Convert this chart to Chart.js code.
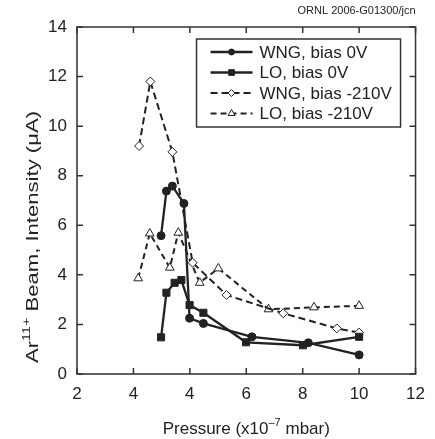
<!DOCTYPE html>
<html>
<head>
<meta charset="utf-8">
<script src="https://cdn.jsdelivr.net/npm/chart.js@4.4.1/dist/chart.umd.min.js"></script>
<style>
  html, body { margin: 0; padding: 0; background: #fff; }
  canvas { display: block; }
</style>
</head>
<body>
<canvas id="beamChart" width="435" height="439"></canvas>
<script>
// --- DATA ---
const seriesNames = ['WNG, bias 0V', 'LO, bias 0V', 'WNG, bias -210V', 'LO, bias -210V'];

const wng0X = [2.98, 3.17, 3.38, 3.79, 3.99, 4.48, 6.2, 8.2, 10.0];
const wng0Y = [5.58, 7.38, 7.58, 6.88, 2.25, 2.04, 1.5, 1.26, 0.77];

const lo0X = [2.98, 3.17, 3.46, 3.7, 3.99, 4.48, 5.99, 8.01, 10.0];
const lo0Y = [1.48, 3.28, 3.68, 3.79, 2.78, 2.47, 1.28, 1.16, 1.5];

const wngBiasX = [2.2, 2.6, 3.38, 4.1, 5.3, 7.31, 9.21, 10.0];
const wngBiasY = [9.2, 11.8, 8.96, 4.49, 3.19, 2.45, 1.84, 1.67];

const loBiasX = [2.17, 2.58, 3.29, 3.59, 4.35, 5.01, 6.79, 8.4, 10.0];
const loBiasY = [3.86, 5.67, 4.29, 5.7, 3.68, 4.26, 2.61, 2.69, 2.75];

// the printed x labels (as they appear on the original figure)
const xTickLabels = ['2', '4', '4', '6', '8', '10', '12'];

const INK = '#222';
const FONT = '"Liberation Sans", Arial, sans-serif';

function pts(xs, ys) { return xs.map((x, i) => ({ x, y: ys[i] })); }

// --- PLUGIN: frame, inward ticks, titles, boxed legend ---
const decorations = {
  id: 'decorations',
  beforeDraw(chart) {
    const ctx = chart.ctx;
    ctx.save();
    ctx.fillStyle = '#fff';
    ctx.fillRect(0, 0, chart.width, chart.height);
    ctx.restore();
  },
  afterDraw(chart) {
    const ctx = chart.ctx;
    const a = chart.chartArea;
    const xs = chart.scales.x, ys = chart.scales.y;
    ctx.save();

    // frame
    ctx.strokeStyle = '#333';
    ctx.lineWidth = 1.5;
    ctx.strokeRect(a.left, a.top, a.right - a.left, a.bottom - a.top);

    // inward ticks on all four sides
    const tl = 6;
    ctx.beginPath();
    xs.ticks.forEach(t => {
      const px = xs.getPixelForValue(t.value);
      ctx.moveTo(px, a.bottom); ctx.lineTo(px, a.bottom - tl);
      ctx.moveTo(px, a.top); ctx.lineTo(px, a.top + tl);
    });
    ys.ticks.forEach(t => {
      const py = ys.getPixelForValue(t.value);
      ctx.moveTo(a.left, py); ctx.lineTo(a.left + tl, py);
      ctx.moveTo(a.right, py); ctx.lineTo(a.right - tl, py);
    });
    ctx.stroke();

    ctx.fillStyle = INK;
    ctx.textAlign = 'left';
    ctx.textBaseline = 'alphabetic';

    // x title: Pressure (x10^-7 mbar)
    const big = '17px ' + FONT, sup = '11px ' + FONT;
    const xParts = [['Pressure (x10', big, 0], ['\u20137', sup, -8], [' mbar)', big, 0]];
    let w = 0;
    xParts.forEach(p => { ctx.font = p[1]; w += ctx.measureText(p[0]).width; });
    let cx = (a.left + a.right) / 2 - w / 2;
    const by = a.bottom + 60;
    xParts.forEach(p => {
      ctx.font = p[1];
      ctx.fillText(p[0], cx, by + p[2]);
      cx += ctx.measureText(p[0]).width;
    });

    // y title: Ar^11+ Beam, Intensity (µA)
    const yParts = [['Ar', big, 0], ['11+', sup, -8], [' Beam, Intensity (\u03bcA)', big, 0]];
    w = 0;
    yParts.forEach(p => { ctx.font = p[1]; w += ctx.measureText(p[0]).width; });
    const stretch = 252 / w;
    ctx.save();
    ctx.translate(38, a.top + 210);
    ctx.rotate(-Math.PI / 2);
    ctx.scale(stretch, 1);
    let tx = -w / 2;
    yParts.forEach(p => {
      ctx.font = p[1];
      ctx.fillText(p[0], tx, p[2]);
      tx += ctx.measureText(p[0]).width;
    });
    ctx.restore();

    // figure id
    ctx.font = '11px ' + FONT;
    ctx.textAlign = 'right';
    ctx.textBaseline = 'middle';
    ctx.fillText('ORNL 2006-G01300/jcn', a.right, 11);

    // legend box
    const lx = a.right - 219, ly = a.top + 12, lw = 204, lh = 88;
    ctx.fillStyle = '#fff';
    ctx.fillRect(lx, ly, lw, lh);
    ctx.strokeStyle = '#333';
    ctx.lineWidth = 1.5;
    ctx.strokeRect(lx, ly, lw, lh);

    const legendRadius = [3, 4, 3.5, 4];
    chart.data.datasets.forEach((ds, i) => {
      const ry = ly + 13 + i * 20.5;
      ctx.save();
      ctx.strokeStyle = ds.borderColor;
      ctx.lineWidth = ds.borderWidth;
      ctx.setLineDash(ds.borderDash || []);
      ctx.beginPath();
      ctx.moveTo(lx + 14, ry); ctx.lineTo(lx + 56, ry);
      ctx.stroke();
      ctx.setLineDash([]);
      ctx.fillStyle = ds.pointBackgroundColor;
      ctx.strokeStyle = ds.pointBorderColor;
      ctx.lineWidth = 1;
      Chart.helpers.drawPoint(ctx, { pointStyle: ds.pointStyle, radius: legendRadius[i], rotation: 0, borderWidth: 1 }, lx + 35, ry);
      ctx.restore();
      ctx.fillStyle = INK;
      ctx.font = '17px ' + FONT;
      ctx.textAlign = 'left';
      ctx.textBaseline = 'middle';
      ctx.fillText(ds.label, lx + 63, ry + 1);
    });

    ctx.restore();
  }
};

new Chart(document.getElementById('beamChart'), {
  type: 'line',
  data: {
    datasets: [
      {
        label: seriesNames[0], data: pts(wng0X, wng0Y),
        borderColor: INK, borderWidth: 2.3,
        pointStyle: 'circle', pointRadius: 4,
        pointBackgroundColor: INK, pointBorderColor: INK, pointBorderWidth: 1
      },
      {
        label: seriesNames[1], data: pts(lo0X, lo0Y),
        borderColor: INK, borderWidth: 2.3,
        pointStyle: 'rect', pointRadius: 5,
        pointBackgroundColor: INK, pointBorderColor: INK, pointBorderWidth: 1
      },
      {
        label: seriesNames[2], data: pts(wngBiasX, wngBiasY),
        borderColor: INK, borderWidth: 2, borderDash: [7, 4],
        pointStyle: 'rectRot', pointRadius: 4.5,
        pointBackgroundColor: '#fff', pointBorderColor: INK, pointBorderWidth: 1
      },
      {
        label: seriesNames[3], data: pts(loBiasX, loBiasY),
        borderColor: INK, borderWidth: 2, borderDash: [6, 4],
        pointStyle: 'triangle', pointRadius: 5,
        pointBackgroundColor: '#fff', pointBorderColor: INK, pointBorderWidth: 1
      }
    ]
  },
  options: {
    responsive: false,
    animation: false,
    layout: { padding: { top: 27, right: 10, left: 0, bottom: 0 } },
    plugins: {
      legend: { display: false },
      tooltip: { enabled: false }
    },
    scales: {
      x: {
        type: 'linear', min: 0, max: 12,
        grid: { display: false, drawTicks: false },
        ticks: {
          stepSize: 2, padding: 10, color: INK, minRotation: 0, maxRotation: 0,
          font: { family: FONT, size: 17 },
          callback: (v, i) => xTickLabels[i]
        },
        afterFit: s => { s.height = 65; }
      },
      y: {
        type: 'linear', min: 0, max: 14,
        grid: { display: false, drawTicks: false },
        ticks: {
          stepSize: 2, padding: 10, color: INK, minRotation: 0, maxRotation: 0,
          font: { family: FONT, size: 17 }
        },
        afterFit: s => { s.width = 77; }
      }
    }
  },
  plugins: [decorations]
});
</script>
</body>
</html>
